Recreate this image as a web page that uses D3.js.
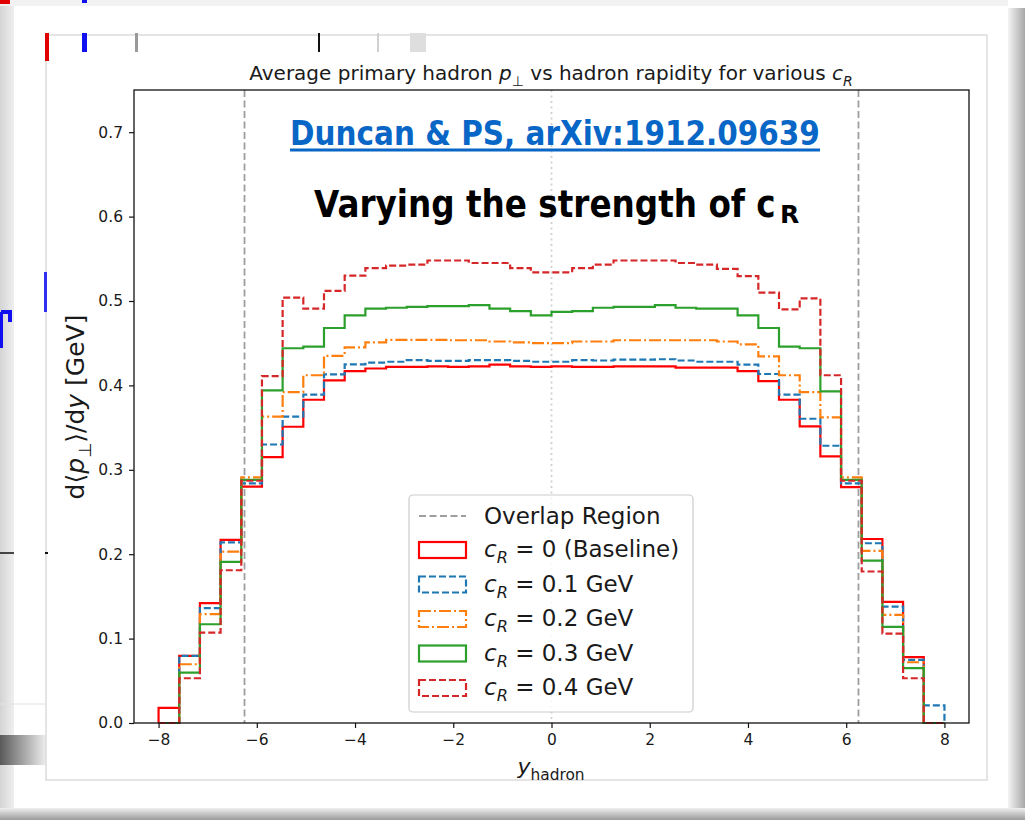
<!DOCTYPE html>
<html>
<head>
<meta charset="utf-8">
<title>Average primary hadron pT vs hadron rapidity</title>
<script src="https://d3js.org/d3.v7.min.js"></script>
<style>
  body { margin: 0; background: #fff; }
  svg text { font-family: "DejaVu Sans", sans-serif; fill: #1a1a1a; }
</style>
</head>
<body>
<script>
// ---- data ----
var binEdges = [-8, -7.579, -7.158, -6.737, -6.316, -5.895, -5.474, -5.053, -4.632, -4.211,
  -3.789, -3.368, -2.947, -2.526, -2.105, -1.684, -1.263, -0.842, -0.421, 0,
  0.421, 0.842, 1.263, 1.684, 2.105, 2.526, 2.947, 3.368, 3.789, 4.211,
  4.632, 5.053, 5.474, 5.895, 6.316, 6.737, 7.158, 7.579, 8];

var cr0 = [0.018, 0.0795, 0.142, 0.217, 0.280, 0.315, 0.351, 0.383, 0.406, 0.417,
  0.420, 0.422, 0.422, 0.4225, 0.422, 0.4225, 0.4245, 0.4225, 0.422, 0.4225,
  0.422, 0.422, 0.4225, 0.4225, 0.4225, 0.421, 0.421, 0.421, 0.417, 0.405,
  0.383, 0.3515, 0.316, 0.2795, 0.218, 0.1435, 0.078, 0];
var cr01 = [0, 0.0795, 0.136, 0.214, 0.284, 0.330, 0.363, 0.389, 0.413, 0.425,
  0.427, 0.428, 0.430, 0.429, 0.429, 0.430, 0.430, 0.429, 0.428, 0.428,
  0.430, 0.4295, 0.4305, 0.4305, 0.431, 0.4295, 0.428, 0.428, 0.4245, 0.4135,
  0.389, 0.3605, 0.3285, 0.284, 0.213, 0.138, 0.0747, 0.021];
var cr02 = [0, 0.0696, 0.129, 0.203, 0.291, 0.363, 0.392, 0.412, 0.435, 0.445,
  0.451, 0.454, 0.454, 0.454, 0.4535, 0.4535, 0.452, 0.451, 0.450, 0.450,
  0.452, 0.452, 0.4535, 0.4535, 0.4535, 0.4535, 0.4535, 0.452, 0.4485, 0.4345,
  0.412, 0.392, 0.362, 0.291, 0.204, 0.128, 0.072, 0];
var cr03 = [0, 0.0597, 0.117, 0.191, 0.288, 0.394, 0.444, 0.446, 0.468, 0.483,
  0.491, 0.492, 0.493, 0.494, 0.494, 0.495, 0.491, 0.488, 0.483, 0.487,
  0.488, 0.492, 0.493, 0.493, 0.495, 0.492, 0.491, 0.491, 0.483, 0.468,
  0.446, 0.444, 0.393, 0.288, 0.1925, 0.114, 0.065, 0];
var cr04 = [0, 0.053, 0.107, 0.181, 0.287, 0.411, 0.504, 0.491, 0.512, 0.530,
  0.539, 0.542, 0.543, 0.548, 0.548, 0.545, 0.545, 0.539, 0.534, 0.534,
  0.539, 0.543, 0.548, 0.548, 0.548, 0.545, 0.543, 0.538, 0.5295, 0.510,
  0.490, 0.503, 0.412, 0.287, 0.1795, 0.106, 0.053, 0];

var crLabels = ["0 (Baseline)", "0.1 GeV", "0.2 GeV", "0.3 GeV", "0.4 GeV"];
var overlapEdges = [-6.25, 6.25];
var xTicks = [-8, -6, -4, -2, 0, 2, 4, 6, 8];
var yTicks = [0, 0.1, 0.2, 0.3, 0.4, 0.5, 0.6, 0.7];

var series = [cr0, cr01, cr02, cr03, cr04];
var colors = ["#ff0000", "#1f77b4", "#ff7f0e", "#2ca02c", "#d62728"];
var dashes = [null, "7,3", "12,3,2,3", null, "7,3"];

var W = 1025, H = 820;
var svg = d3.select("body").append("svg").attr("width", W).attr("height", H);

// ---- slide backdrop (screenshot frame) ----
var defs = svg.append("defs");
var gr = defs.append("linearGradient").attr("id", "shR");
gr.append("stop").attr("offset", "0").attr("stop-color", "#f4f4f4");
gr.append("stop").attr("offset", "1").attr("stop-color", "#a8a8a8");
var gl = defs.append("linearGradient").attr("id", "shL");
gl.append("stop").attr("offset", "0").attr("stop-color", "#d4d4d4");
gl.append("stop").attr("offset", "1").attr("stop-color", "#efefef");
var gb = defs.append("linearGradient").attr("id", "shB").attr("x1", 0).attr("x2", 0).attr("y1", 0).attr("y2", 1);
gb.append("stop").attr("offset", "0").attr("stop-color", "#f0f0f0");
gb.append("stop").attr("offset", "1").attr("stop-color", "#9a9a9a");
var gd = defs.append("linearGradient").attr("id", "shD");
gd.append("stop").attr("offset", "0").attr("stop-color", "#5a5a5a");
gd.append("stop").attr("offset", "1").attr("stop-color", "#f4f4f4");

svg.append("rect").attr("width", W).attr("height", H).attr("fill", "#fff");
svg.append("rect").attr("x", 0).attr("y", 0).attr("width", 14).attr("height", H).attr("fill", "url(#shL)");
svg.append("rect").attr("x", 1008).attr("y", 8).attr("width", 17).attr("height", H).attr("fill", "url(#shR)");
svg.append("rect").attr("x", 0).attr("y", 808).attr("width", W).attr("height", 12).attr("fill", "url(#shB)");
svg.append("rect").attr("x", 0).attr("y", 735).attr("width", 48).attr("height", 30).attr("fill", "url(#shD)");
svg.append("rect").attr("x", 0).attr("y", 0).attr("width", 1008).attr("height", 6).attr("fill", "#f2f2f2");
svg.append("rect").attr("x", 46).attr("y", 35).attr("width", 941).attr("height", 745)
  .attr("fill", "#fff").attr("stroke", "#dcdcdc").attr("stroke-width", 1.5);
svg.append("line").attr("x1", 0).attr("x2", 46).attr("y1", 704).attr("y2", 704).attr("stroke", "#e2e2e2");
// clutter left over from the slide behind
[[0, "#e00000", 0, 10, 4], [45, "#e00000", 33, 4, 28], [82, "#1010f0", 33, 5, 19], [82, "#1010f0", 0, 5, 3],
 [135, "#9a9a9a", 33, 3, 19], [318, "#111", 33, 2, 19], [377, "#d0d0d0", 33, 2, 19]].forEach(function(m) {
  svg.append("rect").attr("x", m[0]).attr("y", m[2]).attr("width", m[3]).attr("height", m[4]).attr("fill", m[1]);
});
svg.append("rect").attr("x", 410).attr("y", 33).attr("width", 16).attr("height", 19).attr("fill", "#dedede");
svg.append("rect").attr("x", 44).attr("y", 272).attr("width", 3).attr("height", 40).attr("fill", "#3030f0");
svg.append("path").attr("d", "M1,312 H10 V322 M1,312 V348").attr("fill", "none").attr("stroke", "#1010f0").attr("stroke-width", 4);
svg.append("line").attr("x1", 0).attr("x2", 14).attr("y1", 553).attr("y2", 553).attr("stroke", "#111").attr("stroke-width", 1.5);
svg.append("rect").attr("x", 45).attr("y", 552).attr("width", 3).attr("height", 2).attr("fill", "#111");

// ---- axes ----
var m = { left: 134, right: 969, top: 90, bottom: 723 };
var x = d3.scaleLinear().domain([-8.5, 8.5]).range([m.left, m.right]);
var y = d3.scaleLinear().domain([0, 0.75]).range([m.bottom, m.top]);

var plot = svg.append("g");
plot.append("rect").attr("x", m.left).attr("y", m.top).attr("width", m.right - m.left)
  .attr("height", m.bottom - m.top).attr("fill", "#fff");

// overlap region and centre line
plot.selectAll(".ov").data(overlapEdges).enter().append("line")
  .attr("x1", function(d) { return x(d); }).attr("x2", function(d) { return x(d); })
  .attr("y1", m.top).attr("y2", m.bottom)
  .attr("stroke", "#9e9e9e").attr("stroke-width", 1.8).attr("stroke-dasharray", "7,3.5");
plot.append("line").attr("x1", x(0)).attr("x2", x(0)).attr("y1", m.top).attr("y2", m.bottom)
  .attr("stroke", "#cfcfcf").attr("stroke-width", 1.8).attr("stroke-dasharray", "2,3.5");

// step histograms
var line = d3.line().x(function(d) { return x(d[0]); }).y(function(d) { return y(d[1]); })
  .curve(d3.curveStepAfter);
series.forEach(function(s, k) {
  var pts = [[binEdges[0], 0]];
  s.forEach(function(v, i) { pts.push([binEdges[i], v]); });
  pts.push([binEdges[binEdges.length - 1], s[s.length - 1]]);
  pts.push([binEdges[binEdges.length - 1], 0]);
  plot.append("path").attr("d", line(pts)).attr("fill", "none")
    .attr("stroke", colors[k]).attr("stroke-width", 2.2)
    .attr("stroke-dasharray", dashes[k]);
});

// spines
plot.append("rect").attr("x", m.left).attr("y", m.top).attr("width", m.right - m.left)
  .attr("height", m.bottom - m.top).attr("fill", "none").attr("stroke", "#111").attr("stroke-width", 1.3);

var xAxis = svg.append("g").attr("transform", "translate(0," + m.bottom + ")")
  .call(d3.axisBottom(x).tickValues(xTicks).tickSize(5).tickPadding(6)
    .tickFormat(function(d) { return d < 0 ? "\u2212" + (-d) : d; }));
var yAxis = svg.append("g").attr("transform", "translate(" + m.left + ",0)")
  .call(d3.axisLeft(y).tickValues(yTicks).tickSize(5).tickPadding(6).tickFormat(d3.format(".1f")));
[xAxis, yAxis].forEach(function(a) {
  a.select(".domain").remove();
  a.selectAll(".tick line").attr("stroke", "#111").attr("stroke-width", 1.2);
  a.selectAll(".tick text").attr("font-family", "DejaVu Sans").attr("font-size", 15.5).attr("fill", "#222");
});

// mathtext-like rich labels
function rich(sel, parts, size) {
  var shift = size * 0.28, down = false;
  parts.forEach(function(p) {
    var ts = sel.append("tspan").text(p.t);
    if (p.i) ts.style("font-style", "italic");
    if (p.sub) {
      ts.attr("font-size", size * 0.7);
      if (!down) ts.attr("dy", shift);
      down = true;
    } else if (down) {
      ts.attr("dy", -shift);
      down = false;
    }
  });
}

rich(svg.append("text").attr("x", 551).attr("y", 80).attr("text-anchor", "middle").attr("font-size", 20),
  [{ t: "Average primary hadron " }, { t: "p", i: 1 }, { t: "\u22a5", sub: 1 },
   { t: " vs hadron rapidity for various " }, { t: "c", i: 1 }, { t: "R", i: 1, sub: 1 }], 20);

rich(svg.append("text").attr("transform", "translate(84,407) rotate(-90)").attr("text-anchor", "middle")
  .attr("font-size", 25),
  [{ t: "d\u27e8" }, { t: "p", i: 1 }, { t: "\u22a5", sub: 1 }, { t: "\u27e9/d" }, { t: "y", i: 1 },
   { t: " [GeV]" }], 25);

rich(svg.append("text").attr("x", 551).attr("y", 774).attr("text-anchor", "middle").attr("font-size", 22),
  [{ t: "y", i: 1 }, { t: "hadron", sub: 1 }], 22);

// ---- legend ----
var lg = svg.append("g");
lg.append("rect").attr("x", 409).attr("y", 495).attr("width", 284).attr("height", 217).attr("rx", 4)
  .attr("fill", "#fff").attr("fill-opacity", 0.8).attr("stroke", "#cccccc").attr("stroke-width", 1.2);
lg.append("line").attr("x1", 419).attr("x2", 466).attr("y1", 516).attr("y2", 516)
  .attr("stroke", "#9e9e9e").attr("stroke-width", 1.8).attr("stroke-dasharray", "7,3.5");
lg.append("text").attr("x", 484).attr("y", 524).attr("font-size", 23).text("Overlap Region");
crLabels.forEach(function(lab, k) {
  var cy = 550 + k * 34.5;
  lg.append("rect").attr("x", 419).attr("y", cy - 8).attr("width", 47).attr("height", 16)
    .attr("fill", "none").attr("stroke", colors[k]).attr("stroke-width", 2.2)
    .attr("stroke-dasharray", dashes[k]);
  rich(lg.append("text").attr("x", 484).attr("y", cy + 7).attr("font-size", 23),
    [{ t: "c", i: 1 }, { t: "R", i: 1, sub: 1 }, { t: " = " + lab }], 23);
});

// ---- slide annotations ----
// squeeze a text horizontally so it spans exactly `width` px
function fitText(txt, left, base, width) {
  var n = txt.node().getComputedTextLength();
  txt.attr("transform", "translate(" + left + "," + base + ") scale(" + (width / n) + ",1)");
}

var dn = svg.append("text").attr("x", 0).attr("y", 0)
  .attr("font-family", "'Liberation Sans', Arial, sans-serif")
  .attr("font-weight", "bold").attr("font-size", 33).style("fill", "#0866c6")
  .text("Duncan & PS, arXiv:1912.09639");
fitText(dn, 290, 145, 530);
svg.append("rect").attr("x", 290).attr("y", 148.5).attr("width", 530).attr("height", 3).attr("fill", "#0866c6");

var vt = svg.append("text").attr("x", 0).attr("y", 0)
  .attr("font-family", "Lato, 'Open Sans', sans-serif").attr("font-weight", "bold").attr("font-size", 37)
  .style("fill", "#000").text("Varying the strength of c");
fitText(vt, 314, 217, 462);
svg.append("text").attr("x", 780).attr("y", 223)
  .attr("font-family", "Lato, 'Open Sans', sans-serif").attr("font-weight", "bold").attr("font-size", 25)
  .style("fill", "#000").text("R");
</script>
</body>
</html>
